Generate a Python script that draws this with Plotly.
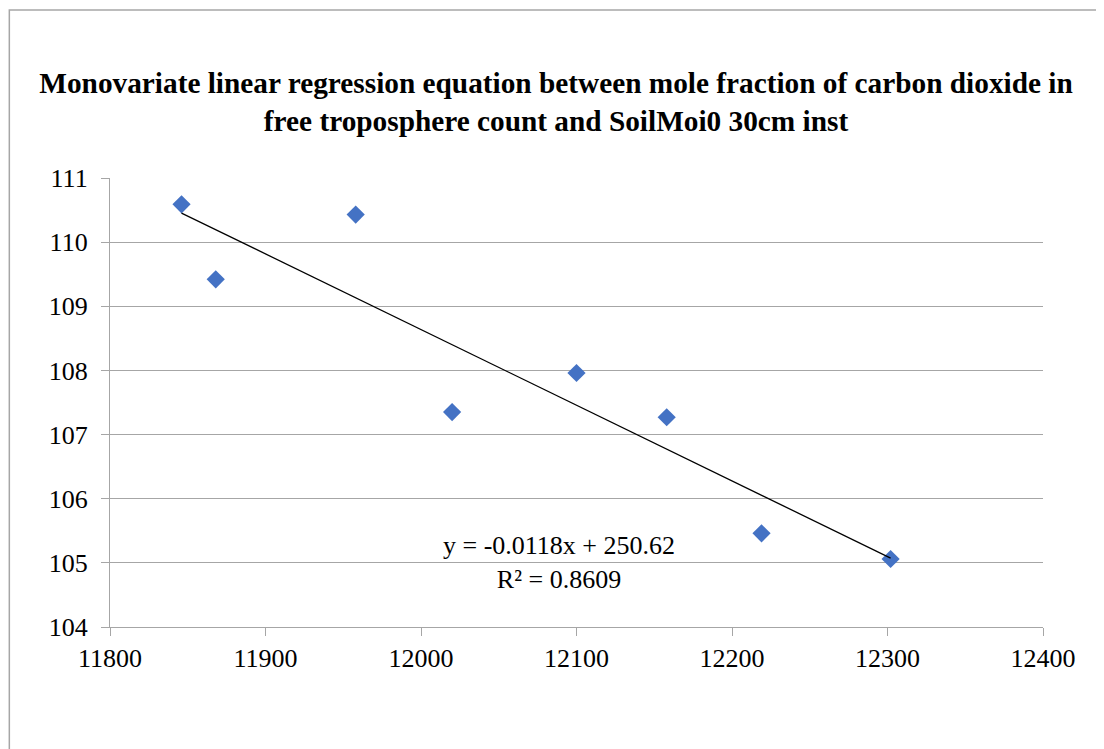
import numpy as np
import plotly.graph_objects as go

# Data
co2_count = [11846, 11868, 11958, 12020, 12100, 12158, 12219, 12302]
soil_moisture = [110.59, 109.42, 110.43, 107.35, 107.96, 107.27, 105.46, 105.06]

title_text = ("Monovariate linear regression equation between mole fraction of carbon dioxide in<br>"
              "free troposphere count and SoilMoi0 30cm inst")
equation_text = "y = -0.0118x + 250.62<br>R² = 0.8609"

x_ticks = [11800, 11900, 12000, 12100, 12200, 12300, 12400]
y_ticks = [104, 105, 106, 107, 108, 109, 110, 111]

# Linear trendline fitted from the data
slope, intercept = np.polyfit(co2_count, soil_moisture, 1)
trend_x = [min(co2_count), max(co2_count)]
trend_y = [slope * v + intercept for v in trend_x]

font_family = "Liberation Serif"
grid_color = "#a6a6a6"

fig = go.Figure()
fig.add_trace(go.Scatter(
    x=co2_count, y=soil_moisture, mode="markers",
    marker=dict(symbol="diamond", size=14, color="#4472C4", line=dict(width=0)),
    showlegend=False, hoverinfo="x+y",
))
fig.add_trace(go.Scatter(
    x=trend_x, y=trend_y, mode="lines",
    line=dict(color="black", width=1.3),
    showlegend=False, hoverinfo="skip",
))

fig.add_annotation(
    x=12089, y=105.01, xref="x", yref="y",
    text=equation_text, showarrow=False,
    font=dict(family=font_family, size=26, color="black"),
    align="center",
)

fig.add_shape(
    type="rect", xref="paper", yref="paper",
    x0=-0.1079, x1=2.0, y0=-2.0, y1=1.374,
    line=dict(color="#a6a6a6", width=1.5), fillcolor="rgba(0,0,0,0)",
    layer="below",
)

fig.update_layout(
    width=1104, height=749,
    margin=dict(l=102, r=69, t=170, b=130),
    paper_bgcolor="white", plot_bgcolor="white",
    title=dict(
        text=title_text, x=0.4964, xanchor="center", xref="container",
        y=0.887, yanchor="middle", yref="container",
        font=dict(family=font_family, size=29.3, color="black", weight="bold"),
    ),
    font=dict(family=font_family, size=26, color="black"),
    xaxis=dict(
        range=[11800, 12400], tickvals=x_ticks, ticktext=[str(v) for v in x_ticks],
        showgrid=False, zeroline=False,
        showline=True, linecolor=grid_color, linewidth=1.3,
        ticks="outside", ticklen=8, tickcolor=grid_color, tickwidth=1.3,
        tickfont=dict(family=font_family, size=26, color="black"),
    ),
    yaxis=dict(
        range=[104, 111], tickvals=y_ticks, ticktext=[str(v) for v in y_ticks],
        showgrid=True, gridcolor=grid_color, gridwidth=1.3, zeroline=False,
        showline=True, linecolor=grid_color, linewidth=1.3,
        ticks="outside", ticklen=8, tickcolor=grid_color, tickwidth=1.3,
        ticklabelstandoff=8,
        tickfont=dict(family=font_family, size=26, color="black"),
    ),
)

fig.write_html("out.html")
